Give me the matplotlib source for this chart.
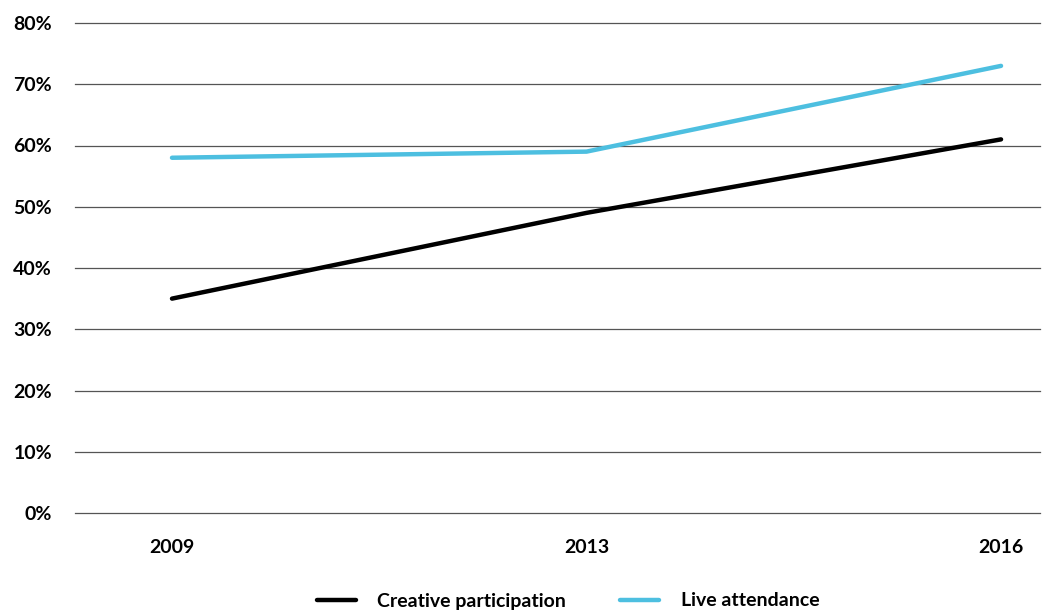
import numpy as np
import matplotlib.pyplot as plt

years = ['2009', '2013', '2016']
creative = [35, 49, 61]
live = [58, 59, 73]
yticks = [0, 10, 20, 30, 40, 50, 60, 70, 80]

plt.rcParams['font.family'] = ['Lato', 'DejaVu Sans']

fig = plt.figure(figsize=(10.5, 6.12), dpi=100)
ax = fig.add_axes([75/1050, 1 - 513/612, 965/1050, 490/612])

x = np.arange(len(years))
ax.plot(x, creative, color='black', lw=3.2, solid_capstyle='round', label='Creative participation')
ax.plot(x, live, color='#4dbfe0', lw=3.2, solid_capstyle='round', label='Live attendance')

ax.set_xlim(-0.234, 2.094)
ax.set_ylim(0, 80)
ax.set_yticks(yticks)
ax.set_yticklabels([f'{v}%' for v in yticks], fontsize=14, fontweight='bold')
ax.set_xticks(x)
ax.set_xticklabels(years, fontsize=14, fontweight='bold')
ax.tick_params(axis='y', length=0, pad=16.5)
ax.tick_params(axis='x', length=0, pad=19)
ax.grid(axis='y', color='#555555', lw=0.9)
for gl in ax.get_ygridlines():
    gl.set_clip_on(False)
ax.set_axisbelow(True)
for s in ax.spines.values():
    s.set_visible(False)

fig.legend(loc='center', bbox_to_anchor=(0.541, 1 - 601/612), ncol=2, frameon=False,
           prop={'size': 14, 'weight': 'bold'}, handlelength=2.0, handletextpad=1.1,
           columnspacing=2.8)

fig.savefig('out.png', dpi=100)
